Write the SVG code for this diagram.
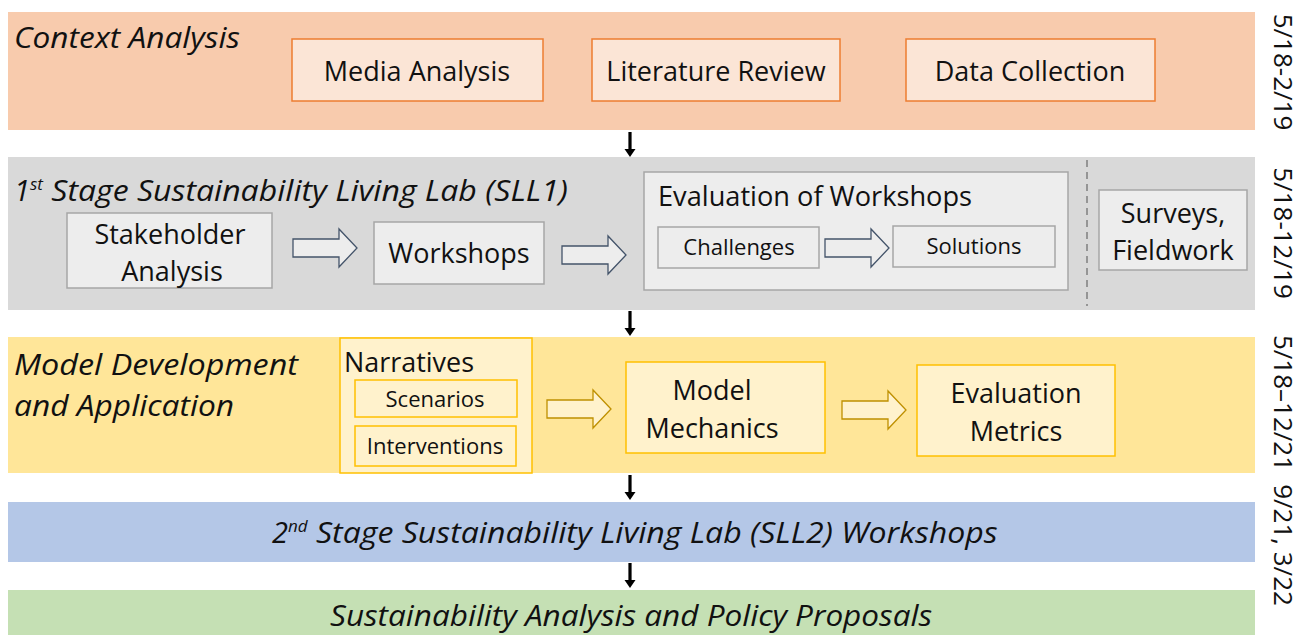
<svg xmlns="http://www.w3.org/2000/svg" width="1308" height="635" viewBox="0 0 1308 635">
<style>
text{font-family:"Open Sans","Noto Sans",sans-serif;fill:#111}
.t{font-size:27px;text-anchor:middle}
.tl{font-size:27px;text-anchor:start}
.s{font-size:22px;text-anchor:middle}
.it{font-style:italic;font-size:29px}
.itc{font-style:italic;font-size:28px;text-anchor:middle}
.ob{fill:#FBE5D6;stroke:#ED7D31;stroke-width:1.5}
.gb{fill:#EDEDED;stroke:#A6A6A6;stroke-width:1.5}
.yb{fill:#FFF2CC;stroke:#FFC000;stroke-width:1.5}
.ga{fill:#EDEDED;stroke:#44546A;stroke-width:1.3}
.ya{fill:#FFF2CC;stroke:#BF9000;stroke-width:1.3}
.date{font-size:26px;text-anchor:middle}
.ah{fill:#000}
</style>
<defs>
<path id="blk" d="M0,10 L46,10 L46,0 L64,19 L46,38 L46,28 L0,28 Z"/>
<path id="down" d="M-1.6,0 L1.6,0 L1.6,17 L5.5,17 L0,25 L-5.5,17 L-1.6,17 Z"/>
</defs>
<!-- bands -->
<rect x="8" y="12" width="1247" height="118" fill="#F8CBAD"/>
<rect x="8" y="157" width="1247" height="153" fill="#D9D9D9"/>
<rect x="8" y="337" width="1247" height="136" fill="#FFE699"/>
<rect x="8" y="502" width="1247" height="60" fill="#B4C7E7"/>
<rect x="8" y="590" width="1247" height="45" fill="#C5E0B4"/>

<text class="it" x="14" y="48" textLength="226" lengthAdjust="spacingAndGlyphs">Context Analysis</text>
<text class="it" x="14" y="201">1<tspan font-size="17" dy="-11">st</tspan><tspan dy="11" textLength="525" lengthAdjust="spacingAndGlyphs"> Stage Sustainability Living Lab (SLL1)</tspan></text>
<text class="it" x="14" y="375" textLength="284" lengthAdjust="spacingAndGlyphs">Model Development</text>
<text class="it" x="14" y="416" textLength="220" lengthAdjust="spacingAndGlyphs">and Application</text>
<text class="it" x="272" y="543">2<tspan font-size="17" dy="-11">nd</tspan><tspan dy="11" textLength="690" lengthAdjust="spacingAndGlyphs"> Stage Sustainability Living Lab (SLL2) Workshops</tspan></text>
<text class="it" x="330" y="626" textLength="602" lengthAdjust="spacingAndGlyphs">Sustainability Analysis and Policy Proposals</text>

<g id="media"><rect class="ob" x="292" y="39" width="251" height="62"/><text class="t" x="417" y="81">Media Analysis</text></g>
<g id="literature"><rect class="ob" x="592" y="39" width="248" height="62"/><text class="t" x="716" y="81">Literature Review</text></g>
<g id="data"><rect class="ob" x="906" y="39" width="249" height="62"/><text class="t" x="1030" y="81">Data Collection</text></g>

<g id="stakeholder"><rect class="gb" x="67" y="213" width="205" height="75"/><text class="t" x="170" y="244">Stakeholder</text><text class="t" x="172" y="281">Analysis</text></g>
<g id="workshops"><rect class="gb" x="374" y="222" width="170" height="62"/><text class="t" x="459" y="263">Workshops</text></g>
<g id="evaluation"><rect class="gb" x="644" y="172" width="424" height="118"/><text class="tl" x="658" y="206" textLength="314" lengthAdjust="spacingAndGlyphs">Evaluation of Workshops</text></g>
<g id="challenges"><rect class="gb" x="658" y="227" width="161" height="41"/><text class="s" x="739" y="255">Challenges</text></g>
<g id="solutions"><rect class="gb" x="893" y="226" width="162" height="41"/><text class="s" x="974" y="254">Solutions</text></g>
<line x1="1087" y1="160" x2="1087" y2="306" stroke="#7F7F7F" stroke-width="1.5" stroke-dasharray="7,5"/>
<g id="surveys"><rect class="gb" x="1099" y="190" width="148" height="80"/><text class="t" x="1173" y="223">Surveys,</text><text class="t" x="1173" y="260">Fieldwork</text></g>

<g id="narratives"><rect class="yb" x="340" y="338" width="192" height="135"/><text class="tl" x="344" y="372" textLength="130" lengthAdjust="spacingAndGlyphs">Narratives</text></g>
<g id="scenarios"><rect class="yb" x="355" y="380" width="162" height="37"/><text class="s" x="435" y="407">Scenarios</text></g>
<g id="interventions"><rect class="yb" x="355" y="426" width="161" height="40"/><text class="s" x="435" y="454">Interventions</text></g>
<g id="mechanics"><rect class="yb" x="626" y="362" width="199" height="91"/><text class="t" x="712" y="400">Model</text><text class="t" x="712" y="438">Mechanics</text></g>
<g id="metrics"><rect class="yb" x="917" y="365" width="198" height="91"/><text class="t" x="1016" y="403">Evaluation</text><text class="t" x="1016" y="441">Metrics</text></g>

<g id="dates">
<text class="date" transform="translate(1274,72) rotate(90)">5/18-2/19</text>
<text class="date" transform="translate(1274,233) rotate(90)">5/18-12/19</text>
<text class="date" transform="translate(1274,403) rotate(90)">5/18–12/21</text>
<text class="date" transform="translate(1274,545) rotate(90)">9/21, 3/22</text>
</g>

<g id="connectors">
<use href="#blk" class="ga" transform="translate(293,229)"/>
<use href="#blk" class="ga" transform="translate(562,236)"/>
<use href="#blk" class="ga" transform="translate(825,229)"/>
<use href="#blk" class="ya" transform="translate(547,390)"/>
<use href="#blk" class="ya" transform="translate(842,391)"/>
<use href="#down" class="ah" transform="translate(630,132)"/>
<use href="#down" class="ah" transform="translate(630,311)"/>
<use href="#down" class="ah" transform="translate(630,475)"/>
<use href="#down" class="ah" transform="translate(630,563)"/>
</g>
</svg>
